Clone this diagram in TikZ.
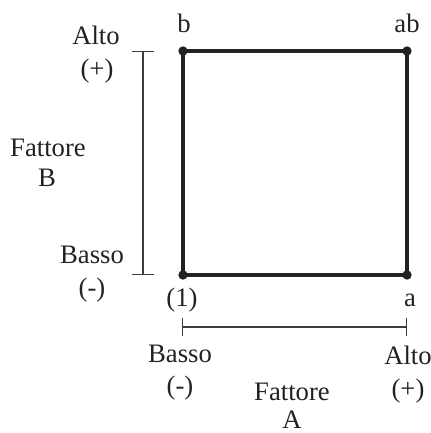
\documentclass[tikz,border=0pt]{standalone}
\usepackage{fontspec}
\setmainfont{Liberation Serif}
\usetikzlibrary{arrows.meta}
\definecolor{inkgray}{RGB}{34,34,34}
\definecolor{rulegray}{RGB}{60,60,60}

\begin{document}
\begin{tikzpicture}[x=0.75pt, y=0.75pt,
    every node/.style={font=\fontsize{20}{24}\selectfont, text=inkgray, inner sep=0pt, anchor=base},
    corner/.style={circle, fill=inkgray, minimum size=7pt, inner sep=0pt, anchor=center},
    edge/.style={draw=inkgray, line width=3pt},
    scalebar/.style={draw=rulegray, line width=0.8pt}]
    \useasboundingbox (0,0) rectangle (431,433);
    % corners of the design
    \node[corner] (c1) at (183,158) {};
    \node[corner] (ca) at (407,158) {};
    \node[corner] (cab) at (407,382) {};
    \node[corner] (cb) at (183,382) {};
    \draw[edge] (c1.center) -- (ca.center) -- (cab.center) -- (cb.center) -- cycle;
    \node (l1) at (182,126) {(1)};
    \node (la) at (410,126) {a};
    \node (lab) at (407,400) {ab};
    \node (lb) at (184,400) {b};
    % factor B scale
    \coordinate (bLow) at (143,158);
    \coordinate (bHigh) at (143,382);
    \draw[scalebar, {Bar[width=17pt]}-{Bar[width=17pt]}] (bLow) -- (bHigh);
    \node (bAlto) at (96,388) {Alto};
    \node (bPlus) at (97,355) {(+)};
    \node (bName) at (48,276) {Fattore};
    \node (bLetter) at (47,246) {B};
    \node (bBasso) at (92,169) {Basso};
    \node (bMinus) at (92,137) {(-)};
    % factor A scale
    \coordinate (aLow) at (182,106);
    \coordinate (aHigh) at (407,106);
    \draw[scalebar, {Bar[width=13.5pt]}-{Bar[width=13.5pt]}] (aLow) -- (aHigh);
    \node (aBasso) at (180,70) {Basso};
    \node (aMinus) at (180,38) {(-)};
    \node (aAlto) at (408,68) {Alto};
    \node (aPlus) at (408,36) {(+)};
    \node (aName) at (292,32) {Fattore};
    \node (aLetter) at (292,5) {A};
\end{tikzpicture}
\end{document}
